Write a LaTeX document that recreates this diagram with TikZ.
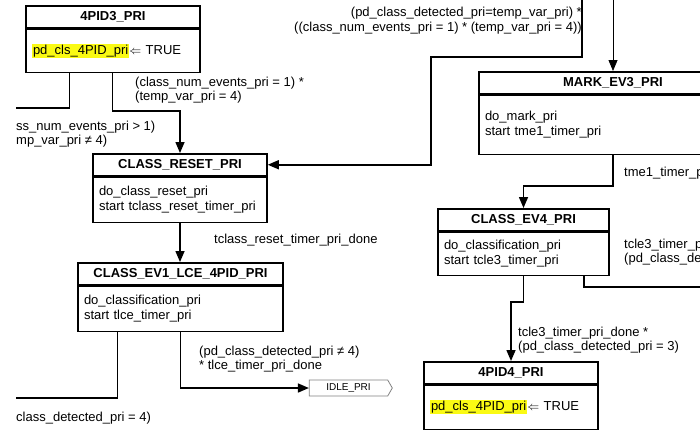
\documentclass[tikz,border=0pt]{standalone}
\usepackage{fontspec}
\setmainfont{Liberation Sans}
\usetikzlibrary{arrows.meta,shapes.symbols}
\definecolor{hlyellow}{RGB}{250,250,20}
\newcommand{\hlyel}[1]{{\setlength{\fboxsep}{1pt}\colorbox{hlyellow}{#1}}}

\begin{document}
\begin{tikzpicture}
  [x=1pt, y=-1pt,
   every node/.style={font=\fontsize{13}{14.5}\selectfont},
   statehead/.style={draw, line width=1.5pt, minimum width=#1, minimum height=22pt,
     inner sep=0pt, anchor=north, font=\fontsize{13}{14.5}\selectfont\bfseries},
   statebody/.style={draw, line width=1.5pt, text width=#1, align=left,
     inner xsep=6pt, inner ysep=0pt, anchor=north},
   trans/.style={line width=1.5pt},
   go/.style={trans, -{Triangle[length=11pt,width=9pt]}},
   cond/.style={inner sep=0pt, align=left, anchor=west},
   offpage/.style={signal, signal to=east, signal pointer angle=120, draw=gray,
     line width=0.8pt, minimum width=83pt, minimum height=16pt, inner sep=0pt,
     font=\fontsize{10}{12}\selectfont}]
  \useasboundingbox (0,0) rectangle (700,432);

  \node[statehead=174pt] (pidthreehead) at (113,5) {4PID3\_PRI};
  \node[statebody=162pt, minimum height=43pt] (pidthreebody) at (pidthreehead.south)
    {\hlyel{pd\_cls\_4PID\_pri}$\Leftarrow$ TRUE};
  \node[statehead=174pt] (resethead) at (180,153) {CLASS\_RESET\_PRI};
  \node[statebody=162pt, minimum height=45pt] (resetbody) at (resethead.south)
    {do\_class\_reset\_pri\\start tclass\_reset\_timer\_pri};
  \node[statehead=205pt] (evonehead) at (180.5,262) {CLASS\_EV1\_LCE\_4PID\_PRI};
  \node[statebody=193pt, minimum height=45pt] (evonebody) at (evonehead.south)
    {do\_classification\_pri\\start tlce\_timer\_pri};
  \node[statehead=268pt] (markhead) at (613,71) {MARK\_EV3\_PRI};
  \node[statebody=256pt, minimum height=59pt] (markbody) at (markhead.south)
    {do\_mark\_pri\\start tme1\_timer\_pri};
  \node[statehead=171pt] (evfourhead) at (523.5,208) {CLASS\_EV4\_PRI};
  \node[statebody=159pt, minimum height=43pt] (evfourbody) at (evfourhead.south)
    {do\_classification\_pri\\start tcle3\_timer\_pri};
  \node[statehead=174pt] (pidfourhead) at (511,361) {4PID4\_PRI};
  \node[statebody=162pt, minimum height=44pt] (pidfourbody) at (pidfourhead.south)
    {\hlyel{pd\_cls\_4PID\_pri}$\Leftarrow$ TRUE};
  \node[offpage] (idle) at (348.5,388) {IDLE\_PRI};

  \coordinate (topin) at (582,0);
  \coordinate (topmark) at (613,0);
  \coordinate (resetbend) at (431,57);
  \coordinate (leftout) at (16,108);
  \coordinate (leftdone) at (16,398);
  \coordinate (rightout) at (700,287);

  \draw[trans] ([xshift=44pt]pidthreebody.south west) |- (leftout);
  \draw[go] ([xshift=87pt]pidthreebody.south west) -- ++(0,38) -| (resethead.north);
  \draw[go] (topin) |- (resetbend) |- (resethead.east);
  \draw[go, line width=0.8pt] (topmark) -- (markhead.north);
  \draw[go] (resetbody.south) -- (resetbody.south |- evonehead.north);
  \draw[go] (markbody.south) -- ++(0,31) -| (evfourhead.north);
  \draw[trans] ([xshift=-26pt]evfourbody.south east) |- (rightout);
  \draw[go] (evfourbody.south) -- ++(0,26) -| (pidfourhead.north);
  \draw[trans] ([xshift=40pt]evonebody.south west) |- (leftdone);
  \draw[go] (evonebody.south) |- (idle.west);

  \node[cond, anchor=east, align=right] (lbltop) at (582,20.5)
    {(pd\_class\_detected\_pri=temp\_var\_pri) *\\((class\_num\_events\_pri = 1) * (temp\_var\_pri = 4))};
  \node[cond] (lblreset) at (135,90) {(class\_num\_events\_pri = 1) *\\(temp\_var\_pri = 4)};
  \node[cond] (lblleft) at (16,134) {ss\_num\_events\_pri > 1)\\mp\_var\_pri ≠ 4)};
  \node[cond] (lbltimer) at (214,240) {tclass\_reset\_timer\_pri\_done};
  \node[cond] (lblidle) at (199,359) {(pd\_class\_detected\_pri ≠ 4)\\* tlce\_timer\_pri\_done};
  \node[cond] (lblbottom) at (16,418) {class\_detected\_pri = 4)};
  \node[cond] (lbltme) at (624,173) {tme1\_timer\_p};
  \node[cond] (lbltcle) at (624,252) {tcle3\_timer\_p\\(pd\_class\_de};
  \node[cond] (lblfour) at (518,340) {tcle3\_timer\_pri\_done *\\(pd\_class\_detected\_pri = 3)};
\end{tikzpicture}
\end{document}
